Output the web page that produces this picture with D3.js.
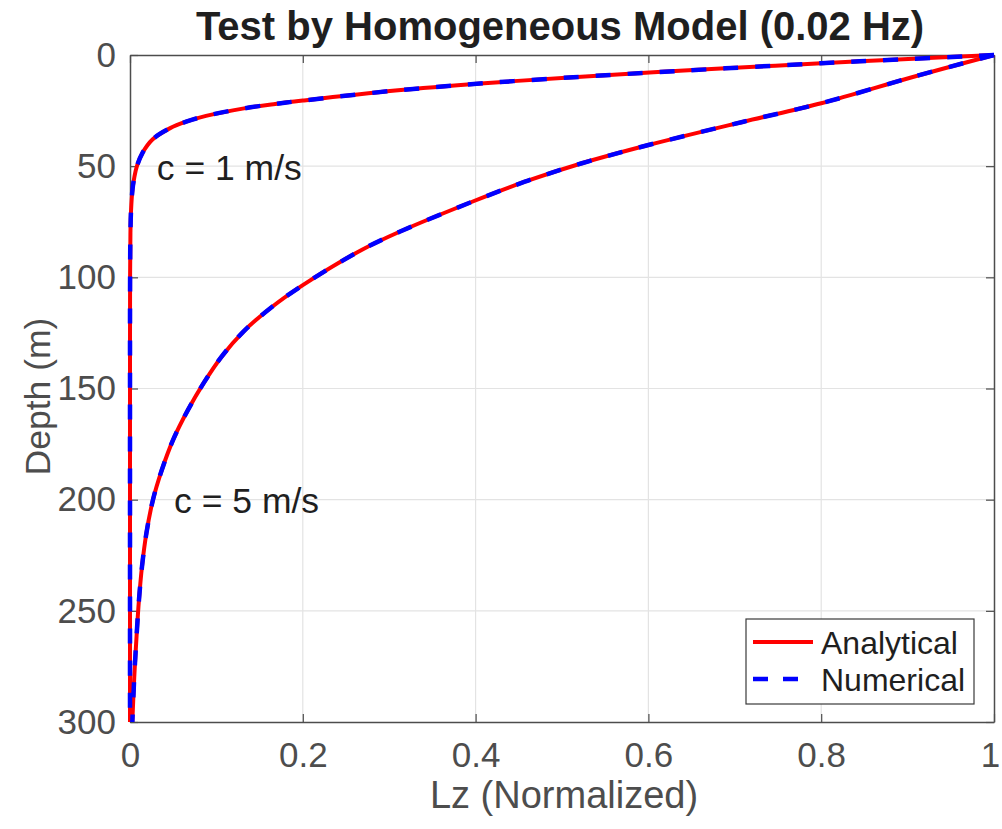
<!DOCTYPE html>
<html>
<head>
<meta charset="utf-8">
<script src="https://cdn.jsdelivr.net/npm/d3@7/dist/d3.min.js"></script>
<style>
  html, body { margin: 0; padding: 0; background: #fff; }
  svg { display: block; font-family: "Liberation Sans", Arial, Helvetica, sans-serif; }
</style>
</head>
<body>
<svg id="chart" width="1002" height="829"></svg>
<script>
// Normalized Lz profiles versus depth for two phase velocities (0.02 Hz).
const depthC1 = [0, 2, 3.7, 6, 7.8, 10, 12.7, 16, 20.5, 22, 24, 27.4, 30, 33, 38, 44, 50, 55, 60, 70, 80, 100, 150, 200, 250, 300];
const lzC1    = [1, 0.889, 0.8, 0.689, 0.606, 0.513, 0.41, 0.307, 0.2, 0.168, 0.132, 0.088, 0.065, 0.046, 0.026, 0.0145, 0.008, 0.005, 0.003, 0.0012, 0.0005, 0.0001, 0, 0, 0, 0];

const depthC5 = [0, 10, 21.7, 30, 40.5, 48.7, 57, 66, 79.5, 87.7, 103.5, 114, 124.5, 135.7, 147.7, 159.7, 173, 187, 200, 215, 230, 245, 260, 280, 300];
const lzC5    = [1, 0.905, 0.8, 0.71, 0.6, 0.523, 0.457, 0.396, 0.312, 0.268, 0.2, 0.162, 0.131, 0.106, 0.085, 0.067, 0.05, 0.0365, 0.0266, 0.019, 0.0139, 0.0104, 0.0078, 0.0049, 0.0027];

const xTicks = [0, 0.2, 0.4, 0.6, 0.8, 1];
const yTicks = [0, 50, 100, 150, 200, 250, 300];

const seriesNames = ["Analytical", "Numerical"];
const curveLabels = [
  { text: "c = 1 m/s", lz: 0.031, depth: 56 },
  { text: "c = 5 m/s", lz: 0.051, depth: 206 }
];

const svg = d3.select("#chart");
const plotL = 130, plotR = 994, plotT = 55, plotB = 722;

const x = d3.scaleLinear().domain([0, 1]).range([plotL, plotR]);
const y = d3.scaleLinear().domain([0, 300]).range([plotT, plotB]);

const axisColor = "#4d4d4d";
const gridColor = "#e3e3e3";
const tickLen = 8;

// grid
const grid = svg.append("g");
grid.selectAll("line.gx").data(xTicks.slice(1, -1)).join("line")
  .attr("x1", d => x(d)).attr("x2", d => x(d))
  .attr("y1", plotT).attr("y2", plotB)
  .attr("stroke", gridColor).attr("stroke-width", 1.2);
grid.selectAll("line.gy").data(yTicks.slice(1, -1)).join("line")
  .attr("x1", plotL).attr("x2", plotR)
  .attr("y1", d => y(d)).attr("y2", d => y(d))
  .attr("stroke", gridColor).attr("stroke-width", 1.2);

// axes with inward ticks on all four sides
function styleAxis(g) {
  g.select(".domain").attr("stroke", axisColor).attr("stroke-width", 1.5);
  g.selectAll(".tick line").attr("stroke", axisColor).attr("stroke-width", 1.2);
  g.selectAll(".tick text").attr("fill", axisColor);
}
const fmtX = d => d === 0 ? "0" : d === 1 ? "1" : d3.format(".1f")(d);

const xBottom = svg.append("g").attr("transform", `translate(0,${plotB})`)
  .call(d3.axisBottom(x).tickValues(xTicks).tickFormat(fmtX).tickSizeInner(-tickLen).tickSizeOuter(0).tickPadding(20));
xBottom.attr("font-family", null).attr("font-size", 35);
styleAxis(xBottom);
// keep the last label inside the page edge
xBottom.selectAll(".tick text").filter(d => d === 1).attr("dx", -4);

const xTop = svg.append("g").attr("transform", `translate(0,${plotT})`)
  .call(d3.axisTop(x).tickValues(xTicks).tickFormat("").tickSizeInner(-tickLen).tickSizeOuter(0));
styleAxis(xTop);

const yLeft = svg.append("g").attr("transform", `translate(${plotL},0)`)
  .call(d3.axisLeft(y).tickValues(yTicks).tickSizeInner(-tickLen).tickSizeOuter(0).tickPadding(14));
yLeft.attr("font-family", null).attr("font-size", 35);
styleAxis(yLeft);

const yRight = svg.append("g").attr("transform", `translate(${plotR},0)`)
  .call(d3.axisRight(y).tickValues(yTicks).tickFormat("").tickSizeInner(-tickLen).tickSizeOuter(0));
styleAxis(yRight);

// curves
const line = d3.line()
  .x(d => x(d[1]))
  .y(d => y(d[0]))
  .curve(d3.curveCatmullRom.alpha(0.5));

const profiles = [
  d3.zip(depthC1, lzC1),
  d3.zip(depthC5, lzC5)
];

const curves = svg.append("g");
profiles.forEach(p => {
  curves.append("path").datum(p).attr("d", line)
    .attr("fill", "none").attr("stroke", "#ff0000").attr("stroke-width", 4);
});
profiles.forEach(p => {
  curves.append("path").datum(p).attr("d", line)
    .attr("fill", "none").attr("stroke", "#0000ff").attr("stroke-width", 4.5)
    .attr("stroke-dasharray", "15,17");
});

// curve labels
svg.append("g").selectAll("text").data(curveLabels).join("text")
  .attr("x", d => x(d.lz)).attr("y", d => y(d.depth))
  .attr("font-size", 35.5).attr("fill", "#1f1f1f")
  .text(d => d.text);

// title and axis labels
svg.append("text").attr("x", (plotL + plotR) / 2 - 2).attr("y", 40)
  .attr("text-anchor", "middle").attr("font-size", 40).attr("font-weight", "bold")
  .attr("fill", "#1f1f1f")
  .text("Test by Homogeneous Model (0.02 Hz)");

svg.append("text").attr("x", (plotL + plotR) / 2 + 2).attr("y", 808)
  .attr("text-anchor", "middle").attr("font-size", 38).attr("fill", axisColor)
  .text("Lz (Normalized)");

svg.append("text")
  .attr("transform", `translate(50,${(plotT + plotB) / 2 + 8}) rotate(-90)`)
  .attr("text-anchor", "middle").attr("font-size", 35.5).attr("fill", axisColor)
  .text("Depth (m)");

// legend
const legend = svg.append("g");
legend.append("rect")
  .attr("x", 746).attr("y", 619).attr("width", 228).attr("height", 85)
  .attr("fill", "#fff").attr("stroke", "#3a3a3a").attr("stroke-width", 1.2);
const legendRows = [
  { name: seriesNames[0], color: "#ff0000", dash: null, width: 4, yy: 642 },
  { name: seriesNames[1], color: "#0000ff", dash: "15,15", width: 4.5, yy: 679 }
];
legendRows.forEach(r => {
  legend.append("line")
    .attr("x1", 753).attr("x2", 813).attr("y1", r.yy).attr("y2", r.yy)
    .attr("stroke", r.color).attr("stroke-width", r.width)
    .attr("stroke-dasharray", r.dash);
  legend.append("text")
    .attr("x", 821).attr("y", r.yy + 12)
    .attr("font-size", 32).attr("fill", "#1f1f1f")
    .text(r.name);
});
</script>
</body>
</html>
